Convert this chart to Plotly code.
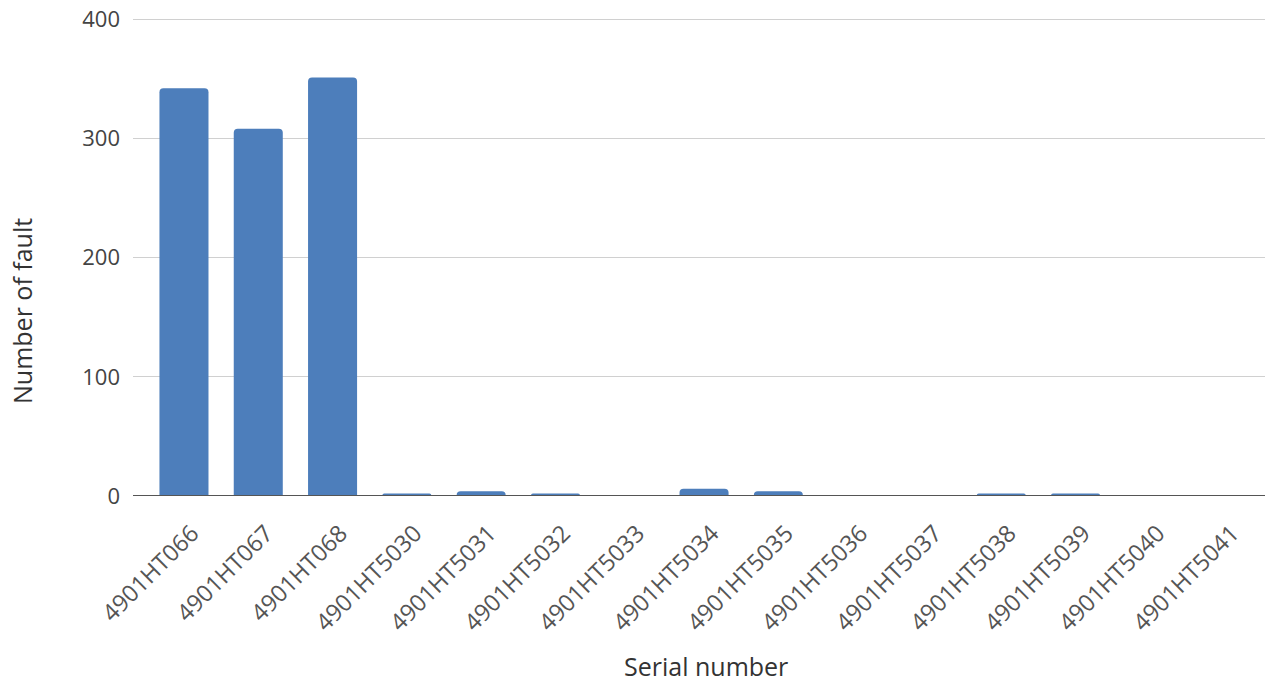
import plotly.graph_objects as go

serials = ["4901HT066", "4901HT067", "4901HT068", "4901HT5030", "4901HT5031",
           "4901HT5032", "4901HT5033", "4901HT5034", "4901HT5035", "4901HT5036",
           "4901HT5037", "4901HT5038", "4901HT5039", "4901HT5040", "4901HT5041"]
faults = [342, 308, 351, 2, 4, 2, 0, 6, 4, 0, 0, 2, 2, 0, 0]
y_ticks = [0, 100, 200, 300, 400]

fig = go.Figure(go.Bar(
    x=list(range(len(serials))), y=faults,
    marker=dict(color="#4d7ebb", cornerradius=4, line=dict(width=0)),
    width=0.66,
))

font = "Open Sans, Roboto, Arial, sans-serif"
fig.update_layout(
    width=1279, height=683,
    margin=dict(l=133, r=14, t=18, b=187),
    paper_bgcolor="white", plot_bgcolor="white",
    showlegend=False,
    font=dict(family=font, color="#444444"),
    xaxis=dict(
        range=[-0.686, 14.55], automargin=False,
        tickmode="array", tickvals=list(range(len(serials))), ticktext=serials,
        tickangle=-45, tickfont=dict(size=23.5, color="#555555"),
        showgrid=False, zeroline=False, showline=False, ticks="",
        ticklabelstandoff=18, ticklabelshift=8,
    ),
    yaxis=dict(
        range=[0, 401], tickvals=y_ticks, automargin=False,
        tickfont=dict(size=22, color="#444444"),
        showgrid=True, gridcolor="#d0d0d0", gridwidth=1,
        zeroline=False, showline=False, ticks="", ticklabelstandoff=12,
    ),
    annotations=[
        dict(text="Serial number", xref="paper", yref="paper",
             x=(706 - 133) / 1132, y=(496 - 666) / 478,
             xanchor="center", yanchor="middle", showarrow=False,
             font=dict(size=25, color="#333333")),
        dict(text="Number of fault", xref="paper", yref="paper",
             x=(22 - 133) / 1132, y=(496 - 311) / 478, textangle=-90,
             xanchor="center", yanchor="middle", showarrow=False,
             font=dict(size=25, color="#333333")),
    ],
)
fig.add_shape(type="line", xref="paper", yref="y", x0=0, x1=1, y0=0, y1=0,
              line=dict(color="#555555", width=2), layer="above")

fig.write_html("out.html")
